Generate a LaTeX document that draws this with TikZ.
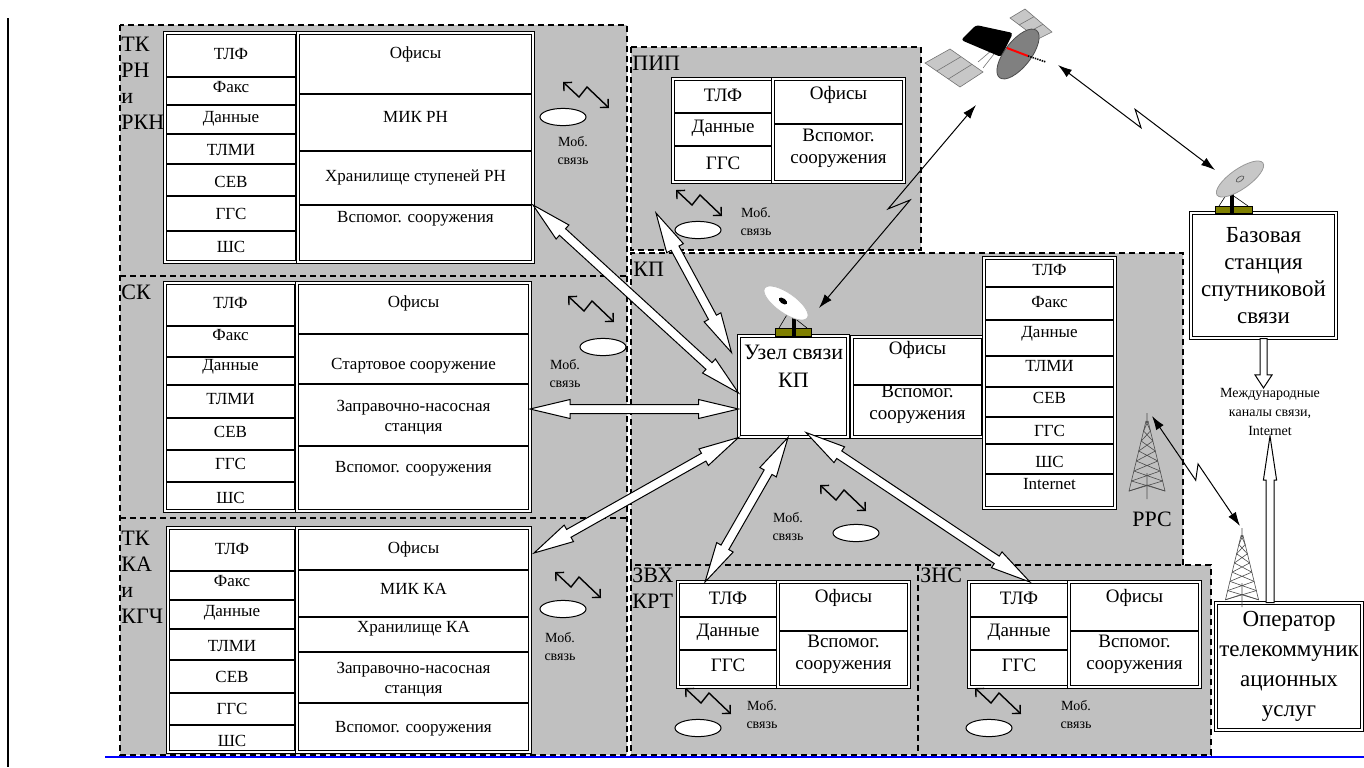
\documentclass[tikz,border=0pt]{standalone}
\usepackage{fontspec}
\setmainfont{Liberation Serif}
\usetikzlibrary{arrows.meta,calc}
\definecolor{zonegray}{HTML}{C0C0C0}
\definecolor{mastbase}{HTML}{7F7F00}

\newcommand{\hollowlink}[2]{%
  \filldraw[hollow] (#1)
    -- ($(#1)!20pt!(#2)!4.75pt!90:(#2)$) -- ($(#1)!20pt!(#2)!2.25pt!90:(#2)$)
    -- ($(#2)!20pt!(#1)!2.25pt!-90:(#1)$) -- ($(#2)!20pt!(#1)!4.75pt!-90:(#1)$)
    -- (#2)
    -- ($(#2)!20pt!(#1)!4.75pt!90:(#1)$) -- ($(#2)!20pt!(#1)!2.25pt!90:(#1)$)
    -- ($(#1)!20pt!(#2)!2.25pt!-90:(#2)$) -- ($(#1)!20pt!(#2)!4.75pt!-90:(#2)$)
    -- cycle;}
\newcommand{\hollowto}[5]{%
  \filldraw[hollow] ($(#1)!#5!90:(#2)$)
    -- ($(#2)!#3!(#1)!#5!-90:(#1)$) -- ($(#2)!#3!(#1)!#4!-90:(#1)$)
    -- (#2)
    -- ($(#2)!#3!(#1)!#4!90:(#1)$) -- ($(#2)!#3!(#1)!#5!90:(#1)$)
    -- ($(#1)!#5!-90:(#2)$) -- cycle;}
\newcommand{\radiolink}[2]{%
  \draw[radio] (#1) -- ($(#1)!.55!(#2)!3pt!-90:(#2)$)
    -- ($(#1)!.47!(#2)!3pt!90:(#2)$) -- (#2);}

\begin{document}
\begin{tikzpicture}[x=0.5pt, y=-0.5pt,
  zoneline/.style={dash pattern=on 3pt off 2pt, line width=0.6pt},
  frame/.style={draw, double, double distance=1.1pt, line width=0.5pt, fill=white},
  rowline/.style={line width=0.6pt},
  cell/.style={font=\fontsize{8.5}{10}\selectfont, inner sep=0pt, align=center},
  wcell/.style={font=\fontsize{9.5}{11}\selectfont, inner sep=0pt, align=center},
  zlabel/.style={font=\fontsize{11}{13}\selectfont, anchor=north west, inner sep=0pt, align=left},
  bigtxt/.style={font=\fontsize{11.5}{13.5}\selectfont, inner sep=0pt, align=center},
  mobtxt/.style={font=\fontsize{7}{9}\selectfont, inner sep=0pt, align=center},
  phone/.style={draw, fill=white, line width=0.5pt},
  hollow/.style={draw, fill=white, line width=0.5pt},
  radio/.style={{Latex[length=7pt,width=4.5pt]}-{Latex[length=7pt,width=4.5pt]}, line width=0.5pt},
  panel/.style={fill=black!22, draw=black!55, line width=0.3pt},
  lattice/.style={draw=black!70, line width=0.3pt},
  mobsig/.pic={\draw[line width=0.7pt, {Straight Barb[length=3pt,width=6pt]}-{Straight Barb[length=3pt,width=6pt]}] (0,0) -- (16,15) -- (24,5) -- (46,26);},
  tower/.pic={
    \draw[lattice] (0,0) -- (0,10) (-1,8) -- (-18,78) -- (0,72) -- (18,78) -- (1,8) (0,60) -- (0,86);
    \foreach \k in {0,...,6} {
      \pgfmathsetmacro\ya{8+10*\k}
      \pgfmathsetmacro\yb{18+10*\k}
      \pgfmathsetmacro\wa{1+17*(\ya-8)/70}
      \pgfmathsetmacro\wb{1+17*(\yb-8)/70}
      \draw[lattice] (-\wa,\ya) -- (\wb,\yb) (\wa,\ya) -- (-\wb,\yb);
    }}
]
  \useasboundingbox (0,0) rectangle (1364,767);
  \draw[line width=1pt] (8,18) -- (8,767);
  \draw[blue, line width=1.2pt] (105,757) -- (1364,757);

  \fill[zonegray] (120,25) rectangle (627,755) (631,47) rectangle (921,250)
    (631,253) rectangle (1183,565) (631,565) rectangle (1211,755);
  \draw[zoneline] (120,25) rectangle (627,755) (120,276) -- (627,276) (120,518) -- (627,518)
    (631,47) rectangle (921,250) (631,565) -- (631,253) -- (1183,253) -- (1183,565)
    (631,565) rectangle (1211,755) (918,565) -- (918,755);

  \node[zlabel] (rnZ) at (121,37) {ТК\\РН\\и\\РКН};
  \node[zlabel] (skZ) at (121,285) {СК};
  \node[zlabel] (kaZ) at (121,531) {ТК\\КА\\и\\КГЧ};
  \node[zlabel] (pipZ) at (632,56) {ПИП};
  \node[zlabel] (kpZ) at (633,262) {КП};
  \node[zlabel] (zvhZ) at (632,568) {ЗВХ\\КРТ};
  \node[zlabel] (znsZ) at (920,568) {ЗНС};

  % ТК РН и РКН
  \draw[frame] (165,33) rectangle (297,262);
  \foreach \y in {77,105,134,164,196,231} \draw[rowline] (167,\y) -- (295,\y);
  \foreach \txt/\y [count=\i] in {ТЛФ/54, Факс/87, Данные/119, ТЛМИ/150, СЕВ/182, ГГС/214, ШС/247}
    \node[cell] (rnL\i) at (231,\y) {\txt};
  \draw[frame] (298,33) rectangle (533,262);
  \foreach \y in {94,151,205} \draw[rowline] (300,\y) -- (531,\y);
  \foreach \txt/\y [count=\i] in {Офисы/54, МИК РН/117, Хранилище ступеней РН/178, Вспомог. сооружения/219}
    \node[cell] (rnR\i) at (415.5,\y) {\txt};

  % СК
  \draw[frame] (165,283) rectangle (296,511);
  \foreach \y in {326,357,385,418,450,482} \draw[rowline] (167,\y) -- (294,\y);
  \foreach \txt/\y [count=\i] in {ТЛФ/303, Факс/335, Данные/367, ТЛМИ/399, СЕВ/432, ГГС/464, ШС/498}
    \node[cell] (skL\i) at (230.5,\y) {\txt};
  \draw[frame] (297,283) rectangle (530,511);
  \foreach \y in {334,384,446} \draw[rowline] (299,\y) -- (528,\y);
  \foreach \txt/\y [count=\i] in {Офисы/303, Стартовое сооружение/366, Заправочно-насосная\\станция/417, Вспомог. сооружения/469}
    \node[cell] (skR\i) at (413.5,\y) {\txt};

  % ТК КА и КГЧ
  \draw[frame] (168,528) rectangle (296,752);
  \foreach \y in {571,600,629,660,693,725} \draw[rowline] (170,\y) -- (294,\y);
  \foreach \txt/\y [count=\i] in {ТЛФ/549, Факс/581, Данные/613, ТЛМИ/646, СЕВ/677, ГГС/709, ШС/741}
    \node[cell] (kaL\i) at (232,\y) {\txt};
  \draw[frame] (297,528) rectangle (530,752);
  \foreach \y in {570,617,652,703} \draw[rowline] (299,\y) -- (528,\y);
  \foreach \txt/\y [count=\i] in {Офисы/549, МИК КА/589, Хранилище КА/629, Заправочно-насосная\\станция/679, Вспомог. сооружения/729}
    \node[cell] (kaR\i) at (413.5,\y) {\txt};

  % ПИП
  \draw[frame] (673,79) rectangle (773,182);
  \foreach \y in {113,146} \draw[rowline] (675,\y) -- (771,\y);
  \foreach \txt/\y [count=\i] in {ТЛФ/95, Данные/128, ГГС/163}
    \node[wcell] (pipL\i) at (723,\y) {\txt};
  \draw[frame] (773,79) rectangle (904,182);
  \draw[rowline] (775,124) -- (902,124);
  \node[wcell] (pipR1) at (838.5,95) {Офисы};
  \node[wcell] (pipR2) at (838.5,148) {Вспомог.\\сооружения};

  % КП
  \node[frame, minimum width=54.5pt, minimum height=50.5pt] (uzel) at (793.5,386.5) {};
  \node[bigtxt, font=\fontsize{11}{14}\selectfont] (uzelT) at (793.5,366) {Узел связи\\КП};
  \draw[frame] (852,337) rectangle (983,437);
  \draw[rowline] (854,385) -- (981,385);
  \node[wcell] (kpR1) at (917.5,350) {Офисы};
  \node[wcell] (kpR2) at (917.5,404) {Вспомог.\\сооружения};
  \draw[frame] (984,258) rectangle (1115,508);
  \foreach \y in {287,320,356,387,417,444,474} \draw[rowline] (986,\y) -- (1113,\y);
  \foreach \txt/\y [count=\i] in {ТЛФ/270, Факс/302, Данные/334, ТЛМИ/366, СЕВ/398, ГГС/431, ШС/462, Internet/484}
    \node[cell] (kpL\i) at (1049.5,\y) {\txt};

  % ЗВХ КРТ и ЗНС
  \foreach \x/\zn in {678/zvh, 969/zns} {
    \draw[frame] (\x,582) rectangle (\x+100,687);
    \foreach \y in {617,650} \draw[rowline] (\x+2,\y) -- (\x+98,\y);
    \foreach \txt/\y [count=\i] in {ТЛФ/598, Данные/632, ГГС/665}
      \node[wcell] (\zn L\i) at (\x+50,\y) {\txt};
    \draw[frame] (\x+100,582) rectangle (\x+231,687);
    \draw[rowline] (\x+102,631) -- (\x+229,631);
    \node[wcell] (\zn R1) at (\x+165.5,598) {Офисы};
    \node[wcell] (\zn R2) at (\x+165.5,654) {Вспомог.\\сооружения};
  }

  % mobile links
  \foreach \px/\py/\ex/\ey/\tx/\ty/\nm in {563/82/563/117/573/151/rn, 568/296/603/347/565/374/sk,
      555/572/563/609/560/647/ka, 676/190/698/230/756/222/pip, 820/485/856/533/788/527/kp,
      685/688/698/728/762/715/zvh, 975/688/989/728/1076/715/zns} {
    \pic at (\px,\py) {mobsig};
    \draw[phone] (\ex,\ey) ellipse [x radius=11.5pt, y radius=4.3pt];
    \node[mobtxt] (\nm Mob) at (\tx,\ty) {Моб.\\связь};
  }

  % satellite
  \filldraw[panel] (925,63) -- (950,49) -- (983,72) -- (960,87) -- cycle;
  \draw[black!55, line width=0.3pt] (936.7,71) -- (961,56.7) (948.3,79) -- (972,64.3);
  \draw[black!55, line width=0.3pt] (978,62) -- (992,50) (983,68) -- (994,54);
  \filldraw[panel] (1010,18) -- (1025,9) -- (1052,32) -- (1038,39) -- cycle;
  \draw[black!55, line width=0.3pt] (1019,25) -- (1034,16.7) (1028.7,32) -- (1043,24.3);
  \fill[rounded corners=1.5pt] (961,40) -- (976,25) -- (1013,33) -- (1001,57) -- cycle;
  \filldraw[fill=black!50, draw=black!70, line width=0.4pt, rotate around={52:(1018,54)}] (1018,54) ellipse [x radius=15pt, y radius=6.5pt];
  \draw[red, line width=1pt] (1007,48) -- (1028,56);
  \draw[line width=0.8pt, dash pattern=on 0.7pt off 0.5pt] (1028,56) -- (1046,62);

  % dish on the KP node
  \filldraw[fill=mastbase, draw=black, line width=0.3pt] (775,328) rectangle (811,336);
  \draw[line width=0.3pt] (779,328) -- (788,313) -- (807,328) (788,313) -- (800,313);
  \draw[line width=1.6pt] (794,314) -- (794,336);
  \filldraw[fill=white, draw=black!25, line width=0.4pt, rotate around={-35:(786,303)}] (786,303) ellipse [x radius=13pt, y radius=5pt];
  \fill[rotate around={-35:(783,301)}] (783,301) ellipse [x radius=2.4pt, y radius=1.3pt];

  % base station
  \node[frame, bigtxt, minimum width=72.5pt, minimum height=62.5pt] (base) at (1263.5,275.5) {Базовая\\станция\\спутниковой\\связи};
  \filldraw[fill=mastbase, draw=black, line width=0.3pt] (1215,206) rectangle (1252,213);
  \draw[line width=0.3pt] (1219,206) -- (1228,192) -- (1248,206);
  \draw[line width=1.6pt] (1232,190) -- (1232,213);
  \filldraw[fill=black!22, draw=black!40, line width=0.4pt, rotate around={35:(1240,179)}] (1240,179) ellipse [x radius=14pt, y radius=5pt];
  \draw[black!60, line width=0.4pt, rotate around={35:(1240,179)}] (1240,179) ellipse [x radius=2.2pt, y radius=1.1pt];

  \node[frame, bigtxt, font=\fontsize{11.5}{15}\selectfont, minimum width=73pt, minimum height=63.5pt] (oper) at (1289,666.5) {Оператор\\телекоммуник\\ационных\\услуг};
  \node[mobtxt, font=\fontsize{7}{9.5}\selectfont] (intl) at (1270,412) {Международные\\каналы связи,\\Internet};

  \pic at (1147,413) {tower};
  \pic[scale=0.92] at (1242,528) {tower};
  \node[bigtxt, font=\fontsize{11}{13}\selectfont] (ppc) at (1152,519) {РРС};

  % links
  \coordinate (rnC) at (533,205);
  \coordinate (skC) at (530,409);
  \coordinate (kaC) at (534,553);
  \coordinate (pipC) at (656,213);
  \coordinate (zvhC) at (705,582);
  \coordinate (znsC) at (1030,582);
  \coordinate (kpA) at ($(uzel.west)+(0,6.5)$);
  \coordinate (kpB) at ($(uzel.west)+(0,22.5)$);
  \coordinate (kpC) at ($(uzel.north west)+(-7,17)$);
  \coordinate (kpD) at ($(uzel.south)+(-5.5,0)$);
  \coordinate (kpE) at ($(uzel.south)+(12.5,-5)$);
  \hollowlink{rnC}{kpA}
  \hollowlink{skC}{kpB}
  \hollowlink{pipC}{kpC}
  \hollowlink{kaC}{uzel.south west}
  \hollowlink{kpD}{zvhC}
  \hollowlink{kpE}{znsC}

  \coordinate (downTip) at (base.south |- intl.north);
  \coordinate (upTail) at (intl.south |- oper.north);
  \hollowto{base.south}{downTip}{6.5pt}{4.25pt}{1.75pt}
  \hollowto{upTail}{intl.south}{22pt}{3.3pt}{2pt}

  \coordinate (kpdish) at (819,308);
  \coordinate (sat1) at (976,105);
  \coordinate (sat2) at (1058,65);
  \coordinate (basedish) at (1215,170);
  \coordinate (ppctop) at (1152,416);
  \coordinate (twrtop) at (1240,526);
  \radiolink{kpdish}{sat1}
  \radiolink{sat2}{basedish}
  \radiolink{ppctop}{twrtop}
\end{tikzpicture}
\end{document}
